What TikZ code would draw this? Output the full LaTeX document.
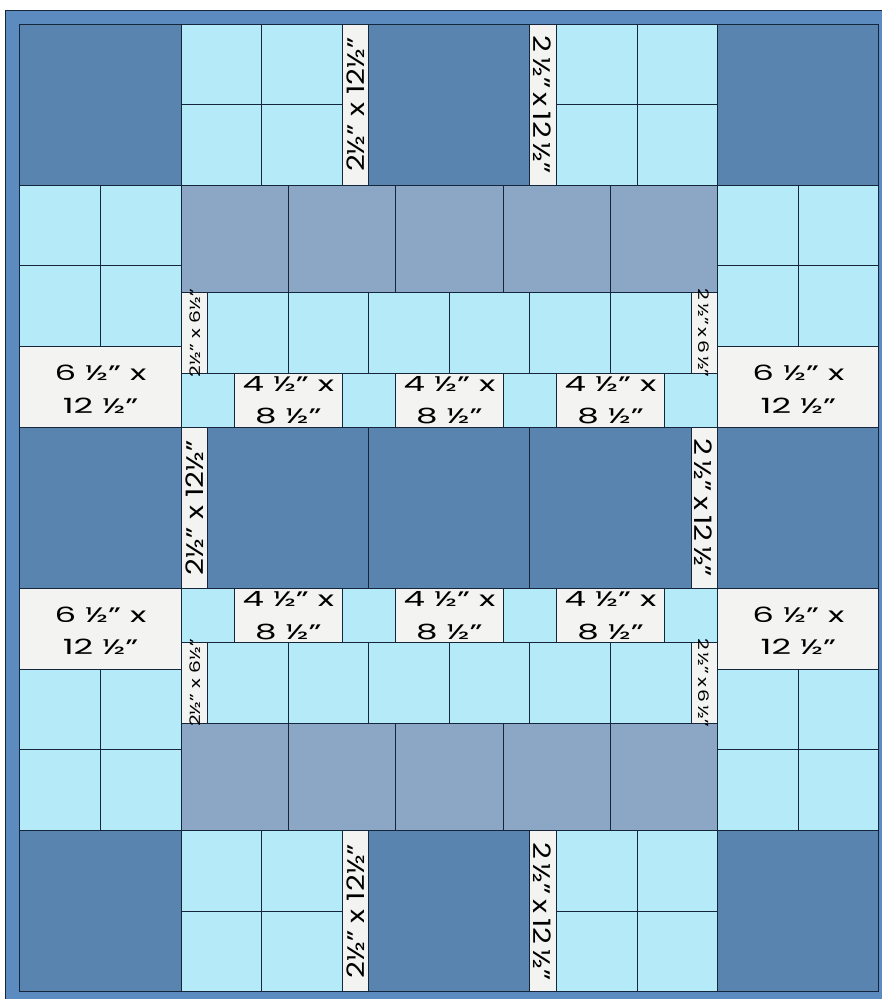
\documentclass[tikz,border=0pt]{standalone}
\usepackage{fontspec}
\newfontfamily\qf[FakeStretch=1.62]{Poppins}
\newfontfamily\qv[FakeStretch=1.22]{Poppins}
\newfontfamily\qs[FakeStretch=1.4]{Poppins}
\definecolor{qborder}{HTML}{5C8BBF}
\definecolor{qdark}{HTML}{5A84B0}
\definecolor{qlight}{HTML}{B5EBF9}
\definecolor{qgray}{HTML}{8CA6C5}
\definecolor{qlabel}{HTML}{F3F3F1}
\definecolor{qline}{HTML}{15253A}
\newcommand\qsp{\hspace{0.2em}}
\tikzset{
  pc/.style={draw=qline, line width=1pt},
  biglbl/.style={font=\qf\fontsize{21}{32.5}\selectfont, align=center, inner sep=0pt, text=black},
  vlbl/.style={font=\qv\fontsize{24}{24}\selectfont, inner sep=0pt, text=black},
  slbl/.style={font=\qs\fontsize{14.5}{14.5}\selectfont, inner sep=0pt, text=black},
}
\newcommand\qp[5]{\filldraw[pc, fill=#5] (#1,#2) rectangle (#3,#4);}
\newcommand\qfour[2]{%
  \pgfmathsetmacro\qxa{#1+6}\pgfmathsetmacro\qxb{#1+12}%
  \pgfmathsetmacro\qya{#2+6}\pgfmathsetmacro\qyb{#2+12}%
  \qp{#1}{#2}{\qxa}{\qya}{qlight}\qp{\qxa}{#2}{\qxb}{\qya}{qlight}%
  \qp{#1}{\qya}{\qxa}{\qyb}{qlight}\qp{\qxa}{\qya}{\qxb}{\qyb}{qlight}}
\begin{document}
\begin{tikzpicture}[x=13.42pt, y=-13.444pt]
\useasboundingbox (-1.4903,-1.7852) rectangle (64.232,72.523);
% white margin above, border band
\fill[white] (-1.4903,-1.7852) rectangle (64.232,72.523);
\fill[qborder] (-1.0432,-1.0413) rectangle (64.4,72.7);
\draw[qline, line width=1pt] (-1.0432,72.7) -- (-1.0432,-1.0413) -- (64.4,-1.0413);
% ---------- top and bottom rows ----------
\foreach \ry in {0,60}{
  \qp{0}{\ry}{12}{\ry+12}{qdark}
  \qfour{12}{\ry}
  \qp{24}{\ry}{26}{\ry+12}{qlabel}
  \qp{26}{\ry}{38}{\ry+12}{qdark}
  \qp{38}{\ry}{40}{\ry+12}{qlabel}
  \qfour{40}{\ry}
  \qp{52}{\ry}{64}{\ry+12}{qdark}
}
% ---------- side columns ----------
\foreach \cx in {0,52}{
  \qfour{\cx}{12}
  \qp{\cx}{24}{\cx+12}{30}{qlabel}
  \qp{\cx}{30}{\cx+12}{42}{qdark}
  \qp{\cx}{42}{\cx+12}{48}{qlabel}
  \qfour{\cx}{48}
}
% ---------- centre: gray rows ----------
\foreach \ry in {12,52}{
  \foreach \gx in {12,20,28,36,44}{
    \qp{\gx}{\ry}{\gx+8}{\ry+8}{qgray}
  }
}
% ---------- centre: light rows with short strips ----------
\foreach \ry in {20,46}{
  \qp{12}{\ry}{14}{\ry+6}{qlabel}
  \foreach \lx in {14,20,26,32,38,44}{
    \qp{\lx}{\ry}{\lx+6}{\ry+6}{qlight}
  }
  \qp{50}{\ry}{52}{\ry+6}{qlabel}
}
% ---------- centre: label rows ----------
\foreach \ry in {26,42}{
  \foreach \lx in {12,24,36,48}{
    \qp{\lx}{\ry}{\lx+4}{\ry+4}{qlight}
  }
  \foreach \lx in {16,28,40}{
    \qp{\lx}{\ry}{\lx+8}{\ry+4}{qlabel}
  }
}
% ---------- centre: dark row ----------
\qp{12}{30}{14}{42}{qlabel}
\qp{14}{30}{26}{42}{qdark}
\qp{26}{30}{38}{42}{qdark}
\qp{38}{30}{50}{42}{qdark}
\qp{50}{30}{52}{42}{qlabel}
% ---------- texts ----------
\node[biglbl] (s1) at (6,27.15) {6 ½” x\\12 ½”};
\node[biglbl] (s2) at (58,27.15) {6 ½” x\\12 ½”};
\node[biglbl] (s3) at (6,45.15) {6 ½” x\\12 ½”};
\node[biglbl] (s4) at (58,45.15) {6 ½” x\\12 ½”};
\foreach \ry/\nm in {28.0/a,44.0/b}{
  \node[biglbl] (r\nm1) at (20,\ry) {4 ½” x\\8 ½”};
  \node[biglbl] (r\nm2) at (32,\ry) {4 ½” x\\8 ½”};
  \node[biglbl] (r\nm3) at (44,\ry) {4 ½” x\\8 ½”};
}
\node[vlbl, rotate=90] (v1) at (25.05,6) {2½” x 12½”};
\node[vlbl, rotate=-90] (v2) at (38.95,6) {2\qsp½”\qsp x\qsp 12\qsp½”};
\node[vlbl, rotate=90] (v3) at (25.05,66) {2½” x 12½”};
\node[vlbl, rotate=-90] (v4) at (38.95,66) {2\qsp½”\qsp x\qsp 12\qsp½”};
\node[vlbl, rotate=90] (v5) at (13.05,36) {2½” x 12½”};
\node[vlbl, rotate=-90] (v6) at (50.95,36) {2\qsp½”\qsp x\qsp 12\qsp½”};
\node[slbl, rotate=90] (w1) at (13.05,23) {2½” x 6½”};
\node[slbl, rotate=-90] (w2) at (50.95,23) {2\qsp½”\qsp x\qsp 6\qsp½”};
\node[slbl, rotate=90] (w3) at (13.05,49) {2½” x 6½”};
\node[slbl, rotate=-90] (w4) at (50.95,49) {2\qsp½”\qsp x\qsp 6\qsp½”};
\end{tikzpicture}
\end{document}
